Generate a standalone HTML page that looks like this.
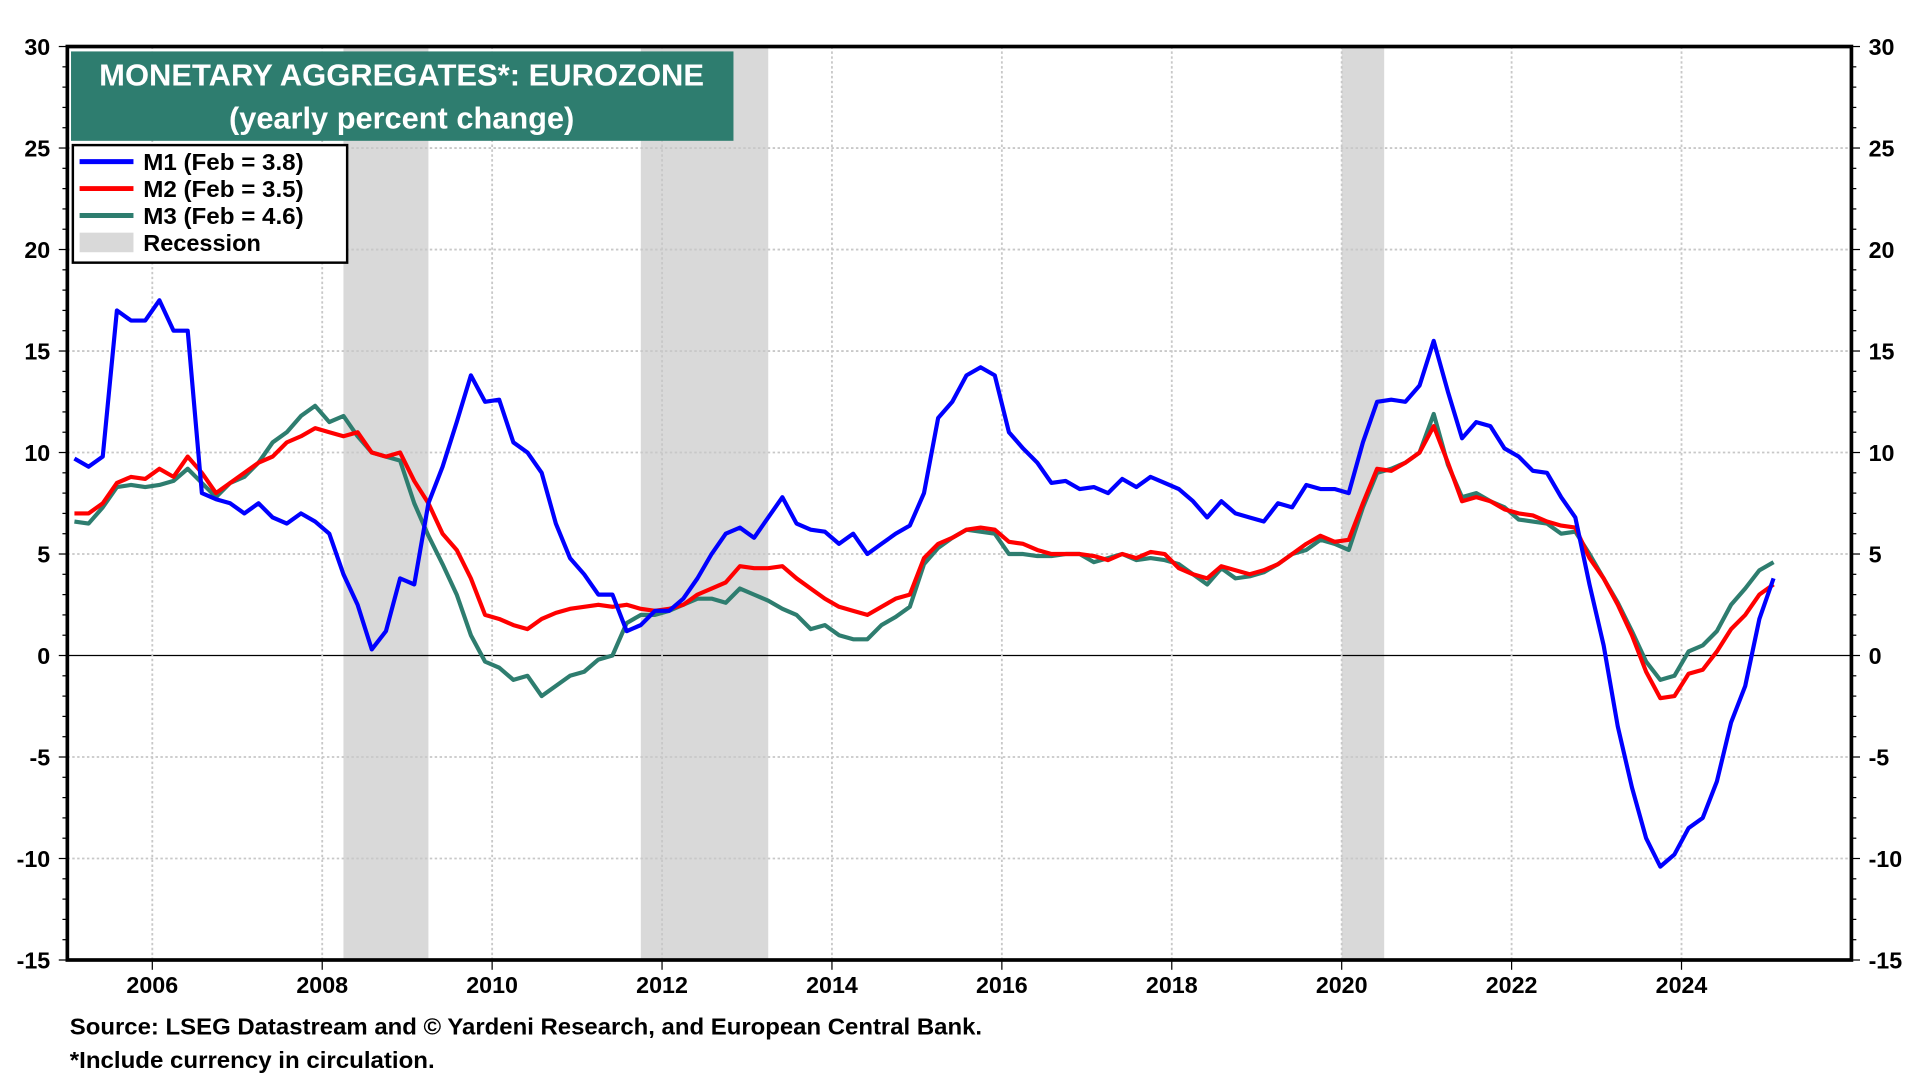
<!DOCTYPE html>
<html><head><meta charset="utf-8"><title>Monetary Aggregates Eurozone</title>
<style>
html,body{margin:0;padding:0;background:#fff;}
svg{display:block;font-family:"Liberation Sans",Arial,sans-serif;font-weight:bold;}
</style></head>
<body>
<svg id="chart" width="1920" height="1080" viewBox="0 0 1568 882" xmlns="http://www.w3.org/2000/svg">
<rect x="0" y="0" width="1568" height="882" fill="#fff"/>
<g id="recessions"></g>
<g id="grid"></g>
<g id="series"></g>
<g id="axes"></g>
<g>
<rect x="58" y="42" width="541" height="73" fill="#2e7d6f"/>
<text x="328" y="70" text-anchor="middle" fill="#fff" font-size="25" textLength="494" lengthAdjust="spacingAndGlyphs">MONETARY AGGREGATES*: EUROZONE</text>
<text x="328" y="105" text-anchor="middle" fill="#fff" font-size="25" textLength="282" lengthAdjust="spacingAndGlyphs">(yearly percent change)</text>
</g>
<g>
<rect x="59.5" y="118.5" width="224" height="96" fill="#fff" stroke="#000" stroke-width="2"/>
<g><line x1="65" y1="132" x2="109" y2="132" stroke="#0000ff" stroke-width="4"/><text x="117" y="139" font-size="19" textLength="131" lengthAdjust="spacingAndGlyphs">M1 (Feb = 3.8)</text></g>
<g><line x1="65" y1="154" x2="109" y2="154" stroke="#ff0000" stroke-width="4"/><text x="117" y="161" font-size="19" textLength="131" lengthAdjust="spacingAndGlyphs">M2 (Feb = 3.5)</text></g>
<g><line x1="65" y1="176" x2="109" y2="176" stroke="#2e7d6f" stroke-width="4"/><text x="117" y="183" font-size="19" textLength="131" lengthAdjust="spacingAndGlyphs">M3 (Feb = 4.6)</text></g>
<g><rect x="65" y="190" width="44" height="16" fill="#d9d9d9"/><text x="117" y="205" font-size="19" textLength="96" lengthAdjust="spacingAndGlyphs">Recession</text></g>
</g>
<text x="57" y="845" font-size="19" textLength="745" lengthAdjust="spacingAndGlyphs">Source: LSEG Datastream and © Yardeni Research, and European Central Bank.</text>
<text x="57" y="872" font-size="19" textLength="298" lengthAdjust="spacingAndGlyphs">*Include currency in circulation.</text>
</svg>
<script>
// data: bi-monthly from Feb 2005 to Feb 2025
const startYear = 2005.0833;
const stepYears = 1/6;
const m1 = [
9.7,9.3,9.8,17.0,16.5,16.5,
17.5,16.0,16.0,8.0,7.7,7.5,
7.0,7.5,6.8,6.5,7.0,6.6,
6.0,4.0,2.5,0.3,1.2,3.8,
3.5,7.5,9.3,11.5,13.8,12.5,
12.6,10.5,10.0,9.0,6.5,4.8,
4.0,3.0,3.0,1.2,1.5,2.2,
2.2,2.8,3.8,5.0,6.0,6.3,
5.8,6.8,7.8,6.5,6.2,6.1,
5.5,6.0,5.0,5.5,6.0,6.4,
8.0,11.7,12.5,13.8,14.2,13.8,
11.0,10.2,9.5,8.5,8.6,8.2,
8.3,8.0,8.7,8.3,8.8,8.5,
8.2,7.6,6.8,7.6,7.0,6.8,
6.6,7.5,7.3,8.4,8.2,8.2,
8.0,10.5,12.5,12.6,12.5,13.3,
15.5,13.0,10.7,11.5,11.3,10.2,
9.8,9.1,9.0,7.8,6.8,3.5,
0.5,-3.5,-6.5,-9.0,-10.4,-9.8,
-8.5,-8.0,-6.2,-3.3,-1.5,1.8,
3.8];
const m2 = [
7.0,7.0,7.5,8.5,8.8,8.7,
9.2,8.8,9.8,9.0,8.0,8.5,
9.0,9.5,9.8,10.5,10.8,11.2,
11.0,10.8,11.0,10.0,9.8,10.0,
8.6,7.5,6.0,5.2,3.8,2.0,
1.8,1.5,1.3,1.8,2.1,2.3,
2.4,2.5,2.4,2.5,2.3,2.2,
2.3,2.5,3.0,3.3,3.6,4.4,
4.3,4.3,4.4,3.8,3.3,2.8,
2.4,2.2,2.0,2.4,2.8,3.0,
4.8,5.5,5.8,6.2,6.3,6.2,
5.6,5.5,5.2,5.0,5.0,5.0,
4.9,4.7,5.0,4.8,5.1,5.0,
4.3,4.0,3.8,4.4,4.2,4.0,
4.2,4.5,5.0,5.5,5.9,5.6,
5.7,7.5,9.2,9.1,9.5,10.0,
11.3,9.5,7.6,7.8,7.6,7.2,
7.0,6.9,6.6,6.4,6.3,4.8,
3.8,2.5,1.0,-0.8,-2.1,-2.0,
-0.9,-0.7,0.2,1.3,2.0,3.0,
3.5];
const m3 = [
6.6,6.5,7.3,8.3,8.4,8.3,
8.4,8.6,9.2,8.5,7.8,8.5,
8.8,9.5,10.5,11.0,11.8,12.3,
11.5,11.8,10.8,10.0,9.8,9.6,
7.5,5.9,4.5,3.0,1.0,-0.3,
-0.6,-1.2,-1.0,-2.0,-1.5,-1.0,
-0.8,-0.2,0.0,1.6,2.0,2.0,
2.2,2.5,2.8,2.8,2.6,3.3,
3.0,2.7,2.3,2.0,1.3,1.5,
1.0,0.8,0.8,1.5,1.9,2.4,
4.5,5.3,5.8,6.2,6.1,6.0,
5.0,5.0,4.9,4.9,5.0,5.0,
4.6,4.8,5.0,4.7,4.8,4.7,
4.5,4.0,3.5,4.3,3.8,3.9,
4.1,4.5,5.0,5.2,5.7,5.5,
5.2,7.3,9.0,9.2,9.5,10.0,
11.9,9.4,7.8,8.0,7.6,7.3,
6.7,6.6,6.5,6.0,6.1,5.0,
3.8,2.6,1.2,-0.3,-1.2,-1.0,
0.2,0.5,1.2,2.5,3.3,4.2,
4.6];
const recessionStarts = [2008.25, 2011.75, 2020.0];
const recessionEnds = [2009.25, 2013.25, 2020.5];
const yTicks = [30,25,20,15,10,5,0,-5,-10,-15];
const yTickLabels = ["30","25","20","15","10","5","0","-5","-10","-15"];
const xTicks = [2006,2008,2010,2012,2014,2016,2018,2020,2022,2024];
const xTickLabels = ["2006","2008","2010","2012","2014","2016","2018","2020","2022","2024"];

const L=55, R=1512, T=38, B=784;
const X0=2005.0, X1=2026.0, YMIN=-15, YMAX=30;
function xs(v){return L+(v-X0)/(X1-X0)*(R-L);}
function ys(v){return B-(v-YMIN)/(YMAX-YMIN)*(B-T);}
const NS="http://www.w3.org/2000/svg";
function mk(tag,attrs,parent){const e=document.createElementNS(NS,tag);for(const k in attrs)e.setAttribute(k,attrs[k]);parent.appendChild(e);return e;}

const gRec=document.getElementById('recessions');
recessionStarts.forEach((s,i)=>{
  const r=mk('rect',{x:xs(s),y:T,width:xs(recessionEnds[i])-xs(s),height:B-T,fill:'#d9d9d9'},gRec);
  
  
});
const gGrid=document.getElementById('grid');
yTicks.forEach(v=>{
  if(v===YMIN||v===YMAX)return;
  const l=mk('line',{x1:L,x2:R,y1:ys(v),y2:ys(v),stroke:v===0?'#000':'#c8c8c8','stroke-width':v===0?1:1.5,'stroke-dasharray':v===0?'none':'2,2'},gGrid);
  
  
});
xTicks.forEach(v=>{
  const l=mk('line',{x1:xs(v),x2:xs(v),y1:T,y2:B,stroke:'#c8c8c8','stroke-width':1.5,'stroke-dasharray':'2,2'},gGrid);
  
  
});
const gS=document.getElementById('series');
function drawSeries(arr,color,name){
  let d='';
  arr.forEach((v,i)=>{const t=startYear+i*stepYears;d+=(i?'L':'M')+xs(t).toFixed(2)+','+ys(v).toFixed(2);});
  const p=mk('path',{d:d,fill:'none',stroke:color,'stroke-width':3.4,'stroke-linejoin':'round'},gS);
  
  
}
drawSeries(m3,'#2e7d6f','m3-line');
drawSeries(m2,'#ff0000','m2-line');
drawSeries(m1,'#0000ff','m1-line');

const gA=document.getElementById('axes');
const frame=mk('rect',{x:L,y:T,width:R-L,height:B-T,fill:'none',stroke:'#000','stroke-width':3},gA);


for(let v=YMIN;v<=YMAX;v++){
  const major=(v%5===0);
  const len=major?7:4;
  mk('line',{x1:L-len,x2:L,y1:ys(v),y2:ys(v),stroke:'#000','stroke-width':1},gA);
  mk('line',{x1:R,x2:R+len,y1:ys(v),y2:ys(v),stroke:'#000','stroke-width':1},gA);
}
yTicks.forEach((v,i)=>{
  const a=mk('text',{x:L-14,y:ys(v)+7,'text-anchor':'end','font-size':19},gA);
  a.textContent=yTickLabels[i];
  
  
  const b=mk('text',{x:R+14,y:ys(v)+7,'text-anchor':'start','font-size':19},gA);
  b.textContent=yTickLabels[i];
  
  
});
xTicks.forEach((v,i)=>{
  mk('line',{x1:xs(v),x2:xs(v),y1:B,y2:B+8,stroke:'#000','stroke-width':1},gA);
  const t=mk('text',{x:xs(v),y:B+27,'text-anchor':'middle','font-size':19},gA);
  t.textContent=xTickLabels[i];
  
  
});
</script>
</body></html>
